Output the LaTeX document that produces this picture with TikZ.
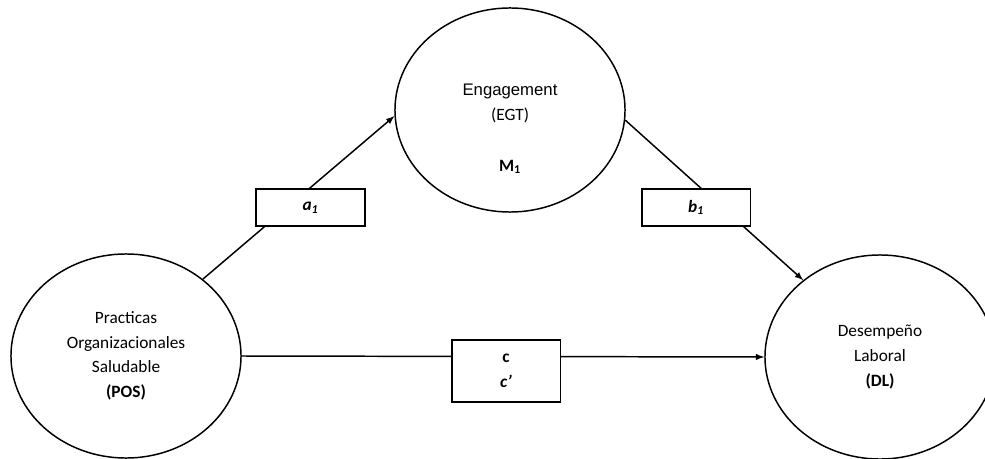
\documentclass[tikz,border=0pt]{standalone}
\usepackage{fontspec}
\setmainfont{Carlito}
\newfontfamily\arialfont{Liberation Sans}
\usetikzlibrary{shapes.geometric,positioning,calc}

\begin{document}
\begin{tikzpicture}
[
	x=0.025cm,y=-0.025cm,
	>=latex, line width=1.05pt,
	every node/.style={font=\fontsize{12.3}{17.5}\selectfont},
	var/.style={draw,ellipse,minimum width=5.75cm,minimum height=5.1cm,inner sep=0pt,align=center},
	coef/.style={draw,fill=white,line width=1.3pt,minimum width=2.72cm,minimum height=0.93cm,inner sep=0pt,align=center}]
\useasboundingbox (0,0) rectangle (985,459);

% variables
\node[var] (pos) at (126,356) {Practicas\\Organizacionales\\Saludable\\\textbf{(POS)}};
\node[var] (egt) at (510,110) {};
\node[align=center] (egttxt) at (510,129) {{\arialfont\fontsize{11.9}{17.5}\selectfont Engagement}\\(EGT)\\[19pt]\textbf{M\textsubscript{1}}};
\node[var] (dl) at (880,357) {Desempeño\\Laboral\\\textbf{(DL)}};

% paths
\draw[->] (pos.45) -- (egt.183);
\draw[->] (egt.-5) -- (dl.135);
\draw[->] (pos.east) -- (dl.west);

% coefficients
\node[coef] (a) at (310.5,207.5) {\textbf{\textit{a\textsubscript{1}}}};
\node[coef] (b) at (696,207.5) {\textbf{\textit{b\textsubscript{1}}}};
\node[coef,minimum height=1.55cm] (c) at (506,371) {\textbf{c}\\\textbf{\textit{c’}}};

\end{tikzpicture}
\end{document}
